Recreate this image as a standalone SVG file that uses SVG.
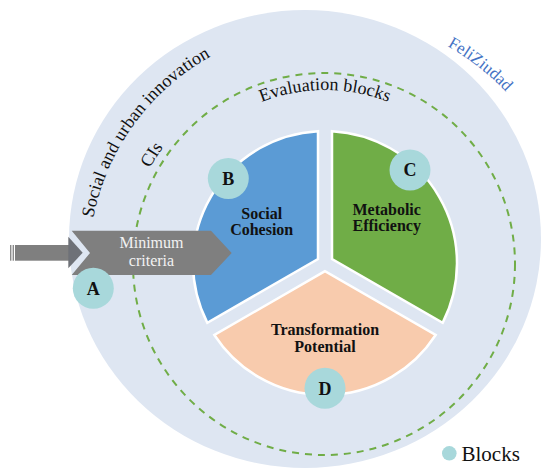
<svg xmlns="http://www.w3.org/2000/svg" width="550" height="475" viewBox="0 0 550 475">
<style>
.serif{font-family:"Liberation Serif","Times New Roman",serif;}
.lbl{font-family:"Liberation Serif","Times New Roman",serif;font-weight:bold;font-size:16px;fill:#111;text-anchor:middle;}
.blk{fill:#A8D8DB;}
.let{font-family:"Liberation Serif","Times New Roman",serif;font-weight:bold;font-size:18px;fill:#111;text-anchor:middle;}
.wedge{stroke:#ffffff;stroke-width:2.5;stroke-linejoin:miter;}
</style>
<defs>
<path id="pOuter" d="M93.3,218 A236,236 0 0 1 284,30.6"/>
<path id="pFeli" d="M447.2,46.1 A249,249 0 0 1 550.7,157.8"/>
<path id="pEval" d="M175.2,176.5 A173,173 0 0 1 474.8,176.5"/>
<path id="pCIs" d="M126.1,256.1 A199,199 0 0 1 231.6,87.3"/>
</defs>
<rect width="550" height="475" fill="#ffffff"/>
<g id="background">
<ellipse cx="305" cy="239" rx="236" ry="229" fill="#DEE6F2"/>
<circle cx="324" cy="264" r="191" fill="none" stroke="#70AD47" stroke-width="2" stroke-dasharray="7,6"/>
<text class="serif" font-size="18" fill="#111"><textPath href="#pOuter" textLength="206" lengthAdjust="spacing">Social and urban innovation</textPath></text>
<text class="serif" font-size="17" fill="#4472C4"><textPath href="#pFeli">FeliZiudad</textPath></text>
<text class="serif" font-size="18" fill="#111" text-anchor="middle"><textPath href="#pEval" startOffset="50%">Evaluation blocks</textPath></text>
<text class="serif" font-size="18" fill="#111" text-anchor="middle"><textPath href="#pCIs" startOffset="50%">CIs</textPath></text>
</g>
<g id="social-cohesion">
<path class="wedge" d="M318,258.96 L318,131.19 A132,132 0 0 0 207.35,322.84 Z" fill="#5B9BD5"/>
<text class="lbl" x="261.7" y="218.5">Social</text>
<text class="lbl" x="261.7" y="235">Cohesion</text>
</g>
<g id="metabolic-efficiency">
<path class="wedge" d="M332,258.96 L332,131.19 A132,132 0 0 1 442.65,322.84 Z" fill="#70AD47"/>
<text class="lbl" x="386.7" y="214.5">Metabolic</text>
<text class="lbl" x="386.7" y="231">Efficiency</text>
</g>
<g id="transformation-potential">
<path class="wedge" d="M325,271.08 L214.35,334.97 A132,132 0 0 0 435.65,334.97 Z" fill="#F8CBAD"/>
<text class="lbl" x="325" y="335">Transformation</text>
<text class="lbl" x="325" y="351.5">Potential</text>
</g>
<g id="connectors">
<rect x="10" y="245" width="1.4" height="15.7" fill="#8a8a8a"/>
<rect x="12.6" y="245" width="1.4" height="15.7" fill="#8a8a8a"/>
<rect x="15" y="245" width="54" height="15.7" fill="#7F7F7F"/>
<polygon points="68.3,236.7 82.7,252.7 68.3,268.3" fill="#6E7178"/>
</g>
<g id="minimum-criteria">
<polygon points="71.7,230.7 211,230.7 231.7,253 211,275 71.7,275 90,253" fill="#7F7F7F"/>
<text class="serif" font-size="16" fill="#F2F2F2" text-anchor="middle" x="151.5" y="248.3">Minimum</text>
<text class="serif" font-size="16" fill="#F2F2F2" text-anchor="middle" x="151.5" y="266">criteria</text>
</g>
<g id="block-a">
<circle class="blk" cx="93.3" cy="288.3" r="20.5"/>
<text class="let" x="93.3" y="294.5">A</text>
</g>
<g id="block-b">
<circle class="blk" cx="228.3" cy="178.5" r="20.5"/>
<text class="let" x="228.3" y="184.7">B</text>
</g>
<g id="block-c">
<circle class="blk" cx="410" cy="170" r="20.5"/>
<text class="let" x="410" y="176.2">C</text>
</g>
<g id="block-d">
<circle class="blk" cx="325" cy="388.3" r="20.5"/>
<text class="let" x="325" y="394.5">D</text>
</g>
<g id="legend">
<circle class="blk" cx="449.3" cy="453.3" r="7.3"/>
<text class="serif" font-size="21" fill="#111" x="461.5" y="460.5">Blocks</text>
</g>
</svg>
